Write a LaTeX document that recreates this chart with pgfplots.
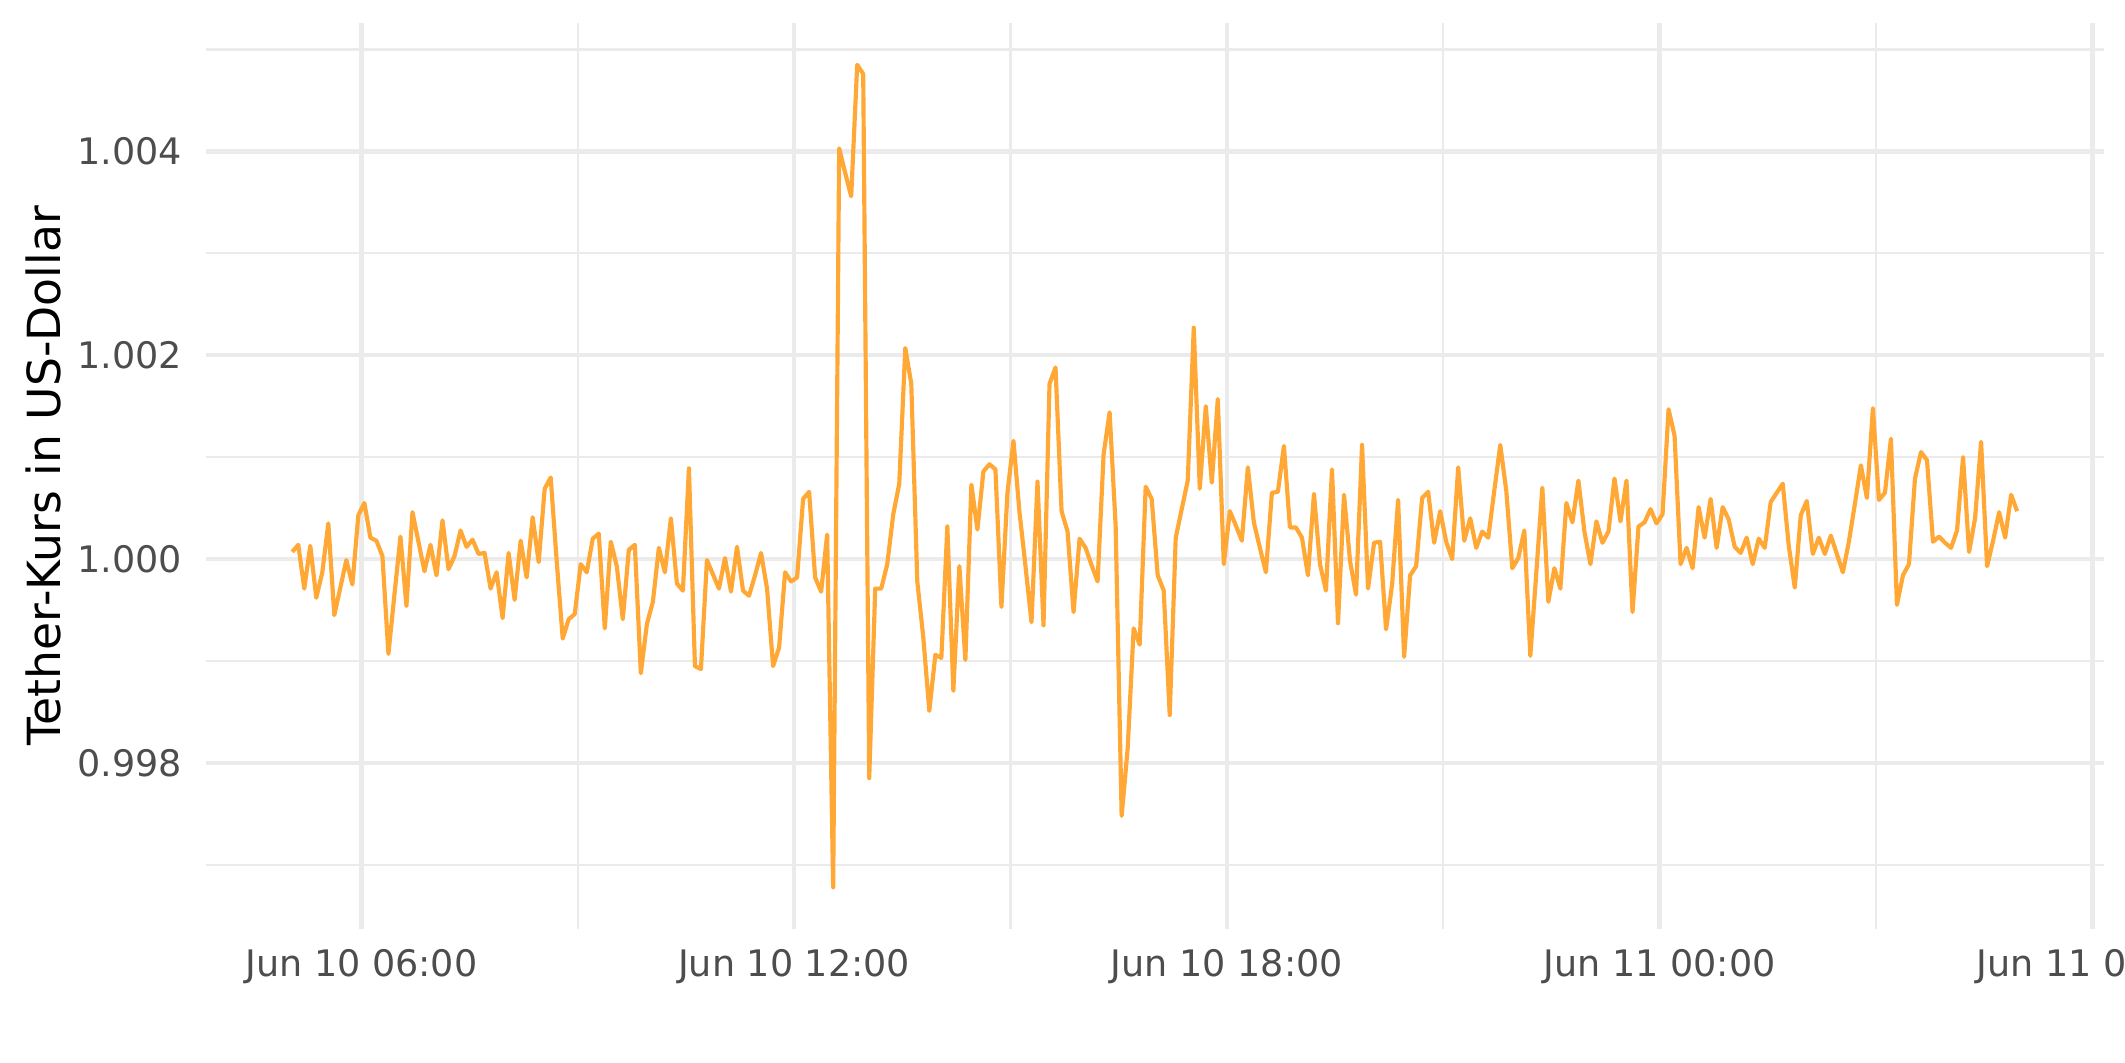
\documentclass[border=0pt]{standalone}
\usepackage{pgfplots}
\usepackage{pgfplotstable}
\pgfplotsset{compat=1.18}
\usepackage{fontspec}
\setmainfont{DejaVu Sans}
\definecolor{gridgray}{HTML}{EBEBEB}
\definecolor{ticktext}{HTML}{4D4D4D}
\definecolor{usdt}{RGB}{255,168,54}

% Tether price, one value every 5 minutes from about Jun 10 05:02 (12 per line = 1 hour)
\pgfplotstableread[row sep=\\]{
y\\
1.00007\\ 1.00014\\ 0.99971\\ 1.00013\\ 0.99962\\ 0.99987\\ 1.00035\\ 0.99945\\ 0.99972\\ 0.99999\\ 0.99975\\ 1.00043\\
1.00055\\ 1.00021\\ 1.00018\\ 1.00003\\ 0.99907\\ 0.99965\\ 1.00022\\ 0.99954\\ 1.00046\\ 1.00017\\ 0.99988\\ 1.00014\\
0.99984\\ 1.00038\\ 0.99990\\ 1.00003\\ 1.00028\\ 1.00012\\ 1.00019\\ 1.00005\\ 1.00006\\ 0.99971\\ 0.99987\\ 0.99942\\
1.00006\\ 0.99960\\ 1.00018\\ 0.99982\\ 1.00041\\ 0.99997\\ 1.00069\\ 1.00080\\ 0.99998\\ 0.99922\\ 0.99941\\ 0.99946\\
0.99995\\ 0.99987\\ 1.00020\\ 1.00025\\ 0.99932\\ 1.00017\\ 0.99993\\ 0.99941\\ 1.00009\\ 1.00014\\ 0.99888\\ 0.99936\\
0.99958\\ 1.00011\\ 0.99987\\ 1.00040\\ 0.99976\\ 0.99969\\ 1.00089\\ 0.99895\\ 0.99892\\ 0.99999\\ 0.99985\\ 0.99971\\
1.00001\\ 0.99968\\ 1.00012\\ 0.99969\\ 0.99964\\ 0.99984\\ 1.00006\\ 0.99971\\ 0.99895\\ 0.99913\\ 0.99987\\ 0.99978\\
0.99982\\ 1.00059\\ 1.00066\\ 0.99982\\ 0.99968\\ 1.00024\\ 0.99678\\ 1.00403\\ 1.00379\\ 1.00356\\ 1.00485\\ 1.00476\\
0.99785\\ 0.99971\\ 0.99971\\ 0.99995\\ 1.00044\\ 1.00074\\ 1.00207\\ 1.00172\\ 0.99978\\ 0.99923\\ 0.99851\\ 0.99906\\
0.99903\\ 1.00032\\ 0.99871\\ 0.99993\\ 0.99901\\ 1.00073\\ 1.00029\\ 1.00086\\ 1.00093\\ 1.00088\\ 0.99953\\ 1.00065\\
1.00116\\ 1.00046\\ 0.99993\\ 0.99938\\ 1.00076\\ 0.99935\\ 1.00172\\ 1.00188\\ 1.00047\\ 1.00027\\ 0.99948\\ 1.00020\\
1.00011\\ 0.99994\\ 0.99978\\ 1.00103\\ 1.00144\\ 1.00033\\ 0.99748\\ 0.99814\\ 0.99932\\ 0.99916\\ 1.00071\\ 1.00059\\
0.99984\\ 0.99969\\ 0.99847\\ 1.00021\\ 1.00049\\ 1.00077\\ 1.00227\\ 1.00069\\ 1.00150\\ 1.00075\\ 1.00157\\ 0.99995\\
1.00047\\ 1.00033\\ 1.00018\\ 1.00090\\ 1.00036\\ 1.00011\\ 0.99987\\ 1.00065\\ 1.00066\\ 1.00111\\ 1.00031\\ 1.00031\\
1.00021\\ 0.99984\\ 1.00064\\ 0.99995\\ 0.99969\\ 1.00088\\ 0.99937\\ 1.00063\\ 0.99998\\ 0.99965\\ 1.00112\\ 0.99971\\
1.00016\\ 1.00017\\ 0.99931\\ 0.99975\\ 1.00058\\ 0.99904\\ 0.99984\\ 0.99993\\ 1.00060\\ 1.00066\\ 1.00016\\ 1.00047\\
1.00017\\ 1.00000\\ 1.00090\\ 1.00018\\ 1.00040\\ 1.00011\\ 1.00027\\ 1.00021\\ 1.00067\\ 1.00112\\ 1.00067\\ 0.99991\\
1.00001\\ 1.00028\\ 0.99905\\ 0.99987\\ 1.00070\\ 0.99958\\ 0.99991\\ 0.99971\\ 1.00055\\ 1.00036\\ 1.00077\\ 1.00027\\
0.99995\\ 1.00037\\ 1.00016\\ 1.00027\\ 1.00079\\ 1.00037\\ 1.00077\\ 0.99948\\ 1.00032\\ 1.00036\\ 1.00049\\ 1.00035\\
1.00044\\ 1.00147\\ 1.00121\\ 0.99995\\ 1.00011\\ 0.99991\\ 1.00051\\ 1.00021\\ 1.00059\\ 1.00011\\ 1.00051\\ 1.00039\\
1.00012\\ 1.00006\\ 1.00021\\ 0.99995\\ 1.00020\\ 1.00011\\ 1.00056\\ 1.00065\\ 1.00074\\ 1.00013\\ 0.99972\\ 1.00043\\
1.00057\\ 1.00005\\ 1.00021\\ 1.00005\\ 1.00023\\ 1.00005\\ 0.99987\\ 1.00017\\ 1.00054\\ 1.00092\\ 1.00060\\ 1.00148\\
1.00058\\ 1.00065\\ 1.00118\\ 0.99955\\ 0.99984\\ 0.99995\\ 1.00079\\ 1.00105\\ 1.00097\\ 1.00017\\ 1.00022\\ 1.00016\\
1.00011\\ 1.00028\\ 1.00100\\ 1.00007\\ 1.00040\\ 1.00115\\ 0.99993\\ 1.00018\\ 1.00046\\ 1.00021\\ 1.00063\\ 1.00047\\
}\rawprices

\begin{document}
\begin{tikzpicture}
\useasboundingbox (0,0) rectangle (510bp,254.88bp);
\begin{axis}[
  at={(49.44bp,31.92bp)}, anchor=south west,
  scale only axis, width=455.5bp, height=217.44bp,
  xmin=3.844, xmax=30.16, ymin=0.99637, ymax=1.00526,
  xtick={6,12,18,24,30},
  xticklabels={Jun 10 06:00, Jun 10 12:00, Jun 10 18:00, Jun 11 00:00, Jun 11 06:00},
  minor xtick={9,15,21,27},
  ytick={0.998,1,1.002,1.004},
  yticklabels={0.998,1.000,1.002,1.004},
  minor ytick={0.997,0.999,1.001,1.003,1.005},
  grid=both,
  major grid style={gridgray, line width=1.07bp},
  minor grid style={gridgray, line width=0.53bp},
  axis line style={draw=none},
  major tick length=0pt, minor tick length=0pt,
  tick label style={font=\fontsize{8.8}{10}\selectfont, text=ticktext, inner sep=0pt},
  xticklabel style={anchor=north, yshift=-4.6bp},
  yticklabel style={anchor=east, xshift=-5.5bp},
  ylabel={Tether-Kurs in US-Dollar},
  ylabel style={font=\fontsize{11}{13}\selectfont, at={(axis description cs:-0.0856,0.5)}, anchor=center},
]
\addplot[usdt, line width=1.0bp, line join=round] table[x expr=5.04+\coordindex/12, y index=0] {\rawprices};
\end{axis}
\end{tikzpicture}
\end{document}
